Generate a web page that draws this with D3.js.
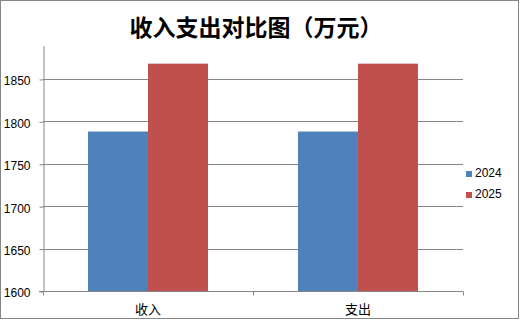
<!DOCTYPE html>
<html>
<head>
<meta charset="utf-8">
<script src="https://cdn.jsdelivr.net/npm/d3@7"></script>
<style>
  html, body { margin: 0; padding: 0; background: #fff; }
  svg { display: block; }
</style>
</head>
<body>
<div id="chart"></div>
<script>
const categories = ['收入', '支出'];
const seriesNames = ['2024', '2025'];
const values2024 = [1788, 1788];
const values2025 = [1868, 1868];
const yTicks = [1600, 1650, 1700, 1750, 1800, 1850];
const titleText = '收入支出对比图（万元）';

const W = 520, H = 320;
const plot = { left: 43, right: 463, top: 45, bottom: 291 };
const colors = { '2024': '#4F81BD', '2025': '#C0504D' };
const axisGray = '#868686';

const svg = d3.select('#chart').append('svg')
  .attr('width', W).attr('height', H);

svg.append('rect')
  .attr('x', 0.5).attr('y', 0.5)
  .attr('width', W - 2).attr('height', H - 2)
  .attr('fill', '#fff').attr('stroke', axisGray).attr('stroke-width', 1);

svg.append('text')
  .attr('x', 256).attr('y', 36)
  .attr('text-anchor', 'middle')
  .attr('font-family', '"Noto Sans CJK SC", sans-serif')
  .attr('font-weight', 'bold')
  .attr('font-size', 23)
  .attr('fill', '#000')
  .text(titleText);

const y = d3.scaleLinear().domain([1600, 1890]).range([plot.bottom, plot.top]);
const x0 = d3.scaleBand().domain(categories).range([plot.left, plot.right]);
const x1 = d3.scaleBand().domain(seriesNames).range([0, x0.bandwidth()])
  .paddingInner(0).paddingOuter(0.75);

// gridlines
svg.append('g').selectAll('line')
  .data(yTicks.filter(d => d > 1600))
  .join('line')
  .attr('x1', plot.left).attr('x2', plot.right)
  .attr('y1', d => Math.round(y(d)) + 0.5).attr('y2', d => Math.round(y(d)) + 0.5)
  .attr('stroke', axisGray);

// bars
const data = categories.map((c, i) => ({ cat: c, vals: [
  { key: '2024', v: values2024[i] },
  { key: '2025', v: values2025[i] }
]}));

svg.append('g').selectAll('g')
  .data(data)
  .join('g')
  .attr('transform', d => `translate(${x0(d.cat)},0)`)
  .selectAll('rect')
  .data(d => d.vals)
  .join('rect')
  .attr('x', d => x1(d.key))
  .attr('width', x1.bandwidth())
  .attr('y', d => y(d.v))
  .attr('height', d => y(1600) - y(d.v))
  .attr('fill', d => colors[d.key]);

// y axis
const yAxis = svg.append('g')
  .attr('transform', `translate(${plot.left + 0.5},0.5)`)
  .call(d3.axisLeft(y).tickValues(yTicks).tickSize(4).tickPadding(9).tickSizeOuter(0).tickFormat(d3.format('d')));
yAxis.select('.domain').attr('stroke', axisGray);
yAxis.selectAll('.tick line').attr('stroke', axisGray);
yAxis.selectAll('.tick text')
  .attr('font-family', '"Liberation Sans", Arial, sans-serif')
  .attr('font-size', 12).attr('fill', '#000').attr('dy', '0.45em');

// x axis
const xAxisG = svg.append('g').attr('transform', `translate(0,${plot.bottom + 0.5})`);
xAxisG.append('line')
  .attr('x1', plot.left - 4).attr('x2', plot.right)
  .attr('stroke', axisGray);
xAxisG.selectAll('.xtick')
  .data(categories.map(c => x0(c) + x0.bandwidth()))
  .join('line')
  .attr('x1', d => Math.round(d) + 0.5).attr('x2', d => Math.round(d) + 0.5)
  .attr('y1', 0).attr('y2', 4)
  .attr('stroke', axisGray);
xAxisG.append('line')
  .attr('x1', plot.left + 0.5).attr('x2', plot.left + 0.5)
  .attr('y1', 0).attr('y2', 4).attr('stroke', axisGray);
xAxisG.selectAll('text')
  .data(categories)
  .join('text')
  .attr('x', d => x0(d) + x0.bandwidth() / 2)
  .attr('y', 22)
  .attr('text-anchor', 'middle')
  .attr('font-family', '"Noto Sans CJK SC", sans-serif')
  .attr('font-size', 13)
  .attr('fill', '#000')
  .text(d => d);

// legend
const legend = svg.append('g').selectAll('g')
  .data(seriesNames)
  .join('g')
  .attr('transform', (d, i) => `translate(466,${171 + i * 21})`);
legend.append('rect')
  .attr('width', 6).attr('height', 6)
  .attr('fill', d => colors[d]);
legend.append('text')
  .attr('x', 9).attr('y', 6)
  .attr('font-family', '"Liberation Sans", Arial, sans-serif')
  .attr('font-size', 12)
  .attr('fill', '#000')
  .text(d => d);
</script>
</body>
</html>
